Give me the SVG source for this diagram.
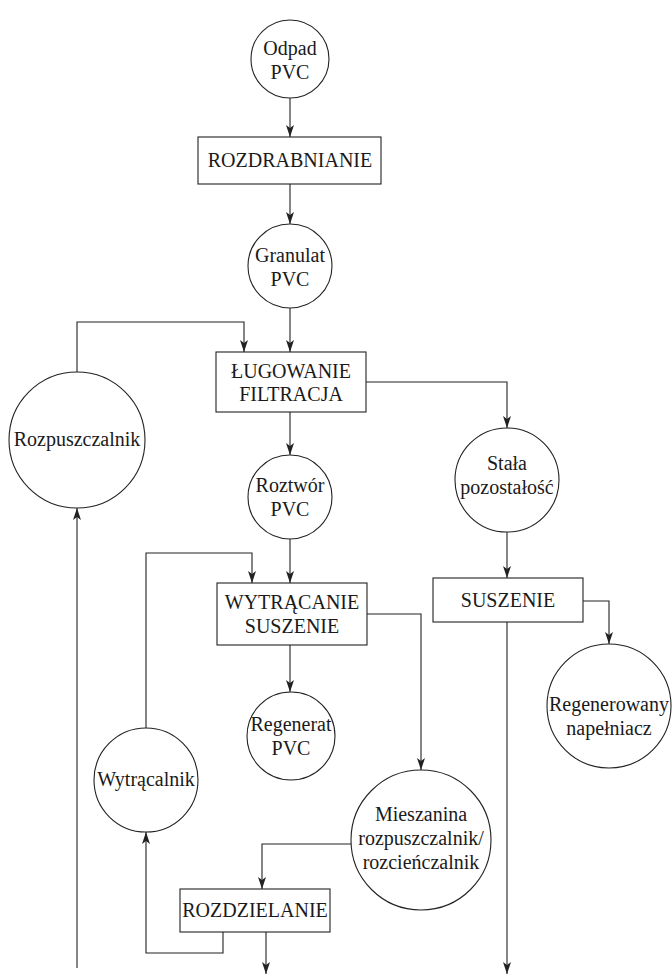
<svg xmlns="http://www.w3.org/2000/svg" width="672" height="976" viewBox="0 0 672 976">
<style>
.n{fill:#fff;stroke:#222;stroke-width:1.1}
.c{fill:none;stroke:#222;stroke-width:1.1}
</style>
<defs>
<marker id="a" markerUnits="userSpaceOnUse" markerWidth="14" markerHeight="10" viewBox="-13 -5 14 10" refX="0" refY="0" orient="auto">
<path d="M0,0 L-12,-4 L-9,0 L-12,4 Z" fill="#222"/>
</marker>
</defs>
<rect width="672" height="976" fill="#fff"/>
<g id="connectors">
<path class="c" d="M290,98 V137" marker-end="url(#a)"/>
<path class="c" d="M290,184 V224" marker-end="url(#a)"/>
<path class="c" d="M290,308 V352" marker-end="url(#a)"/>
<path class="c" d="M77,372 V322 H244 V352" marker-end="url(#a)"/>
<path class="c" d="M366,382 H507 V428" marker-end="url(#a)"/>
<path class="c" d="M290,412 V455" marker-end="url(#a)"/>
<path class="c" d="M77,968 V508" marker-end="url(#a)"/>
<path class="c" d="M507,532 V578" marker-end="url(#a)"/>
<path class="c" d="M583,601 H609 V644" marker-end="url(#a)"/>
<path class="c" d="M507,622 V974" marker-end="url(#a)"/>
<path class="c" d="M290,539 V583" marker-end="url(#a)"/>
<path class="c" d="M146,728 V553 H252 V583" marker-end="url(#a)"/>
<path class="c" d="M367,614 H421 V770" marker-end="url(#a)"/>
<path class="c" d="M290,645 V692" marker-end="url(#a)"/>
<path class="c" d="M351,844 H262 V889" marker-end="url(#a)"/>
<path class="c" d="M223,932 V953 H146 V832" marker-end="url(#a)"/>
<path class="c" d="M266,932 V974" marker-end="url(#a)"/>
</g>
<g font-family="'Liberation Serif', 'Times New Roman', serif" font-size="20" fill="#1a1a1a" text-anchor="middle">
<g id="odpad"><circle class="n" cx="290" cy="59" r="39"/><text x="290" y="55">Odpad</text><text x="290" y="79">PVC</text></g>
<g id="rozdrabnianie"><rect class="n" x="198" y="137" width="183" height="47"/><text x="290" y="167">ROZDRABNIANIE</text></g>
<g id="granulat"><circle class="n" cx="290" cy="266" r="42"/><text x="290" y="262">Granulat</text><text x="290" y="286">PVC</text></g>
<g id="lugowanie"><rect class="n" x="216" y="352" width="150" height="60"/><text x="291" y="378">ŁUGOWANIE</text><text x="291" y="401">FILTRACJA</text></g>
<g id="rozpuszczalnik"><circle class="n" cx="77" cy="440" r="68"/><text x="77" y="446">Rozpuszczalnik</text></g>
<g id="roztwor"><circle class="n" cx="290" cy="497" r="42"/><text x="290" y="492">Roztwór</text><text x="290" y="516">PVC</text></g>
<g id="stala"><circle class="n" cx="507" cy="480" r="52"/><text x="507" y="470">Stała</text><text x="507" y="494">pozostałość</text></g>
<g id="suszenie"><rect class="n" x="433" y="578" width="150" height="44"/><text x="508" y="607">SUSZENIE</text></g>
<g id="regenerowany"><circle class="n" cx="609" cy="706" r="62"/><text x="609" y="711">Regenerowany</text><text x="609" y="735">napełniacz</text></g>
<g id="wytracanie"><rect class="n" x="217" y="583" width="150" height="62"/><text x="292" y="609">WYTRĄCANIE</text><text x="292" y="633">SUSZENIE</text></g>
<g id="regenerat"><circle class="n" cx="291" cy="736" r="44"/><text x="291" y="731">Regenerat</text><text x="291" y="755">PVC</text></g>
<g id="wytracalnik"><circle class="n" cx="146" cy="780" r="52"/><text x="146" y="786">Wytrącalnik</text></g>
<g id="mieszanina"><circle class="n" cx="421" cy="840" r="70"/><text x="421" y="821">Mieszanina</text><text x="421" y="845">rozpuszczalnik/</text><text x="421" y="869">rozcieńczalnik</text></g>
<g id="rozdzielanie"><rect class="n" x="180" y="889" width="150" height="43"/><text x="255" y="917">ROZDZIELANIE</text></g>
</g>
</svg>
